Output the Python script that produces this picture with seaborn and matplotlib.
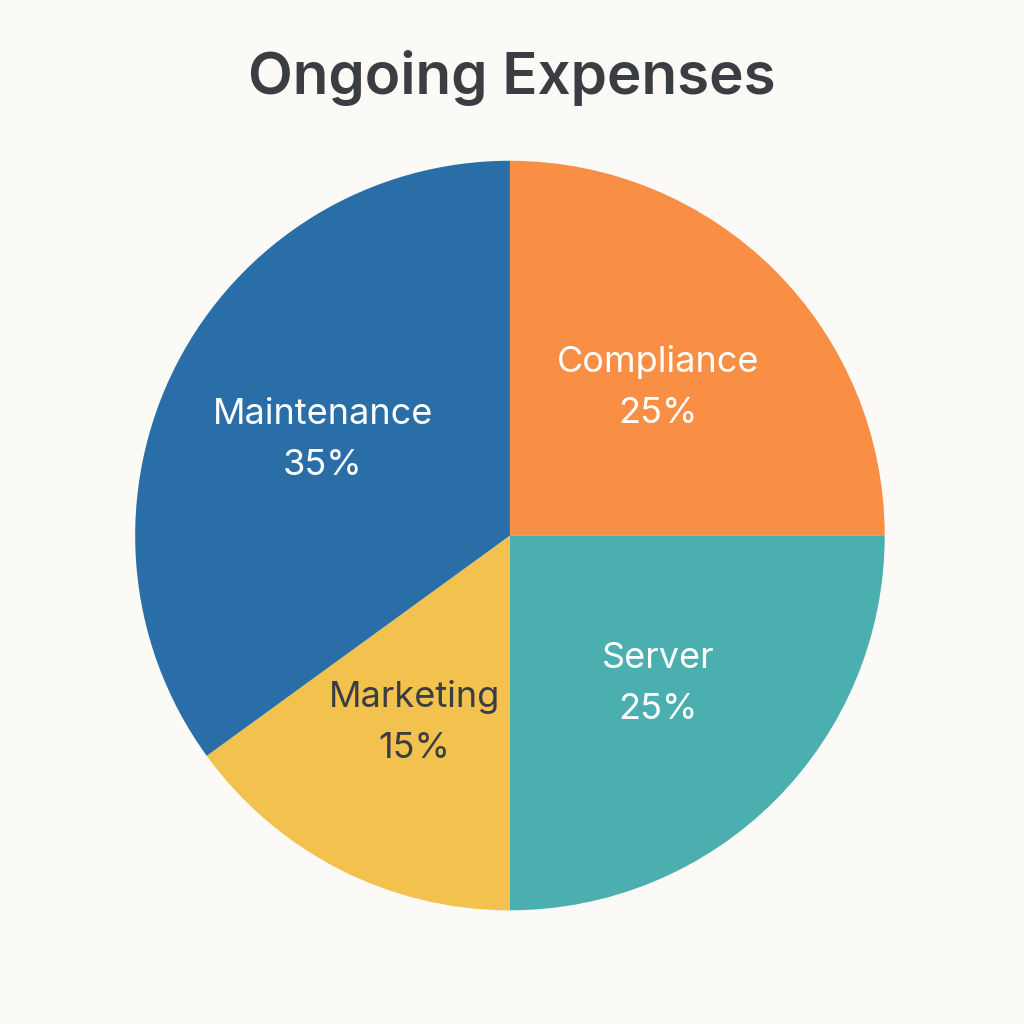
import matplotlib
matplotlib.use("Agg")
import matplotlib.pyplot as plt
import seaborn as sns
import numpy as np

sns.set_theme(style="white")
plt.rcParams['font.family'] = ['Inter', 'DejaVu Sans']

categories = ["Compliance", "Server", "Marketing", "Maintenance"]
values = [25, 25, 15, 35]
colors = ["#F98F45", "#4BAFB0", "#F2C14E", "#2A6EA8"]
text_colors = ["white", "white", "#3a3d42", "white"]

bg = "#FBFAF7"
fig = plt.figure(figsize=(10.24, 10.24), dpi=100, facecolor=bg)
ax = fig.add_axes([0.132, 0.111, 0.732, 0.732])
ax.set_facecolor(bg)
wedges, _ = ax.pie(values, colors=colors, startangle=90, counterclock=False,
                   wedgeprops=dict(linewidth=0), radius=1.0)
ax.set_xlim(-1, 1)
ax.set_ylim(-1, 1)
ax.set_aspect("equal")
for w, cat, v, tc in zip(wedges, categories, values, text_colors):
    ang = np.deg2rad((w.theta1 + w.theta2) / 2)
    r = 0.56
    x, y = r * np.cos(ang), r * np.sin(ang)
    ax.text(x, y, f"{cat}\n{v}%", ha="center", va="center", color=tc,
            fontsize=26, linespacing=1.7)
fig.text(0.5, 0.924, "Ongoing Expenses", ha="center", va="center",
         fontsize=42, fontweight="semibold", color="#3a3d42")
fig.savefig("out.png", dpi=100, facecolor=bg)
